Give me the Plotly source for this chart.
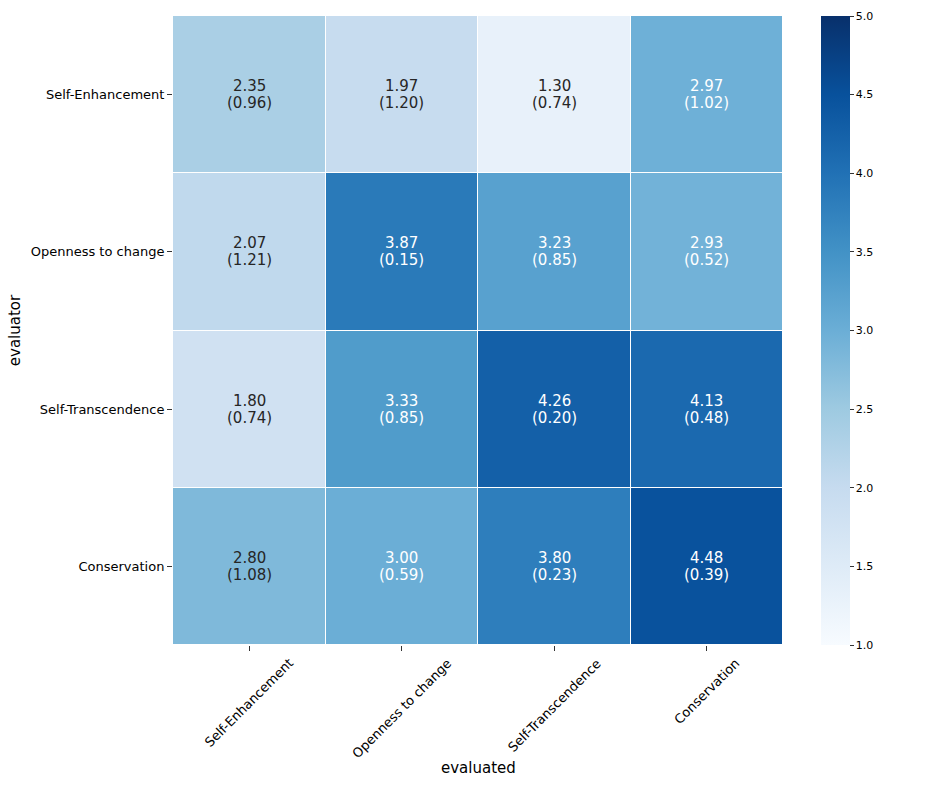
import plotly.graph_objects as go

evaluated = ["Self-Enhancement", "Openness to change", "Self-Transcendence", "Conservation"]
evaluator = ["Self-Enhancement", "Openness to change", "Self-Transcendence", "Conservation"]

means = [
    [2.35, 1.97, 1.30, 2.97],
    [2.07, 3.87, 3.23, 2.93],
    [1.80, 3.33, 4.26, 4.13],
    [2.80, 3.00, 3.80, 4.48],
]
stds = [
    [0.96, 1.20, 0.74, 1.02],
    [1.21, 0.15, 0.85, 0.52],
    [0.74, 0.85, 0.20, 0.48],
    [1.08, 0.59, 0.23, 0.39],
]
cbar_ticks = [1.0, 1.5, 2.0, 2.5, 3.0, 3.5, 4.0, 4.5, 5.0]

FONT = "DejaVu Sans"

fig = go.Figure()
fig.add_trace(go.Heatmap(
    z=means, x=evaluated, y=evaluator,
    zmin=1, zmax=5, colorscale="Blues",
    xgap=1, ygap=1, hoverinfo="skip",
    colorbar=dict(
        x=1.062, xanchor="left", y=0.5, yanchor="middle", len=1, lenmode="fraction",
        thickness=29, outlinewidth=0, xpad=0, ypad=0,
        tickvals=cbar_ticks, ticktext=[f"{t:.1f}" for t in cbar_ticks],
        ticks="outside", ticklen=4, tickcolor="#333",
        tickfont=dict(family=FONT, size=11, color="#000"),
    ),
))

annotations = []
for i, row in enumerate(evaluator):
    for j, col in enumerate(evaluated):
        m = means[i][j]
        color = "white" if m >= 2.9 else "#262626"
        annotations.append(dict(
            x=col, y=row, xref="x", yref="y", yshift=8.5,
            text=f"{m:.2f}", showarrow=False,
            font=dict(family=FONT, size=15, color=color),
        ))
        annotations.append(dict(
            x=col, y=row, xref="x", yref="y", yshift=-8.5,
            text=f"({stds[i][j]:.2f})", showarrow=False,
            font=dict(family=FONT, size=15, color=color),
        ))

for col in evaluated:
    annotations.append(dict(
        x=col, y=0, xref="x", yref="paper", yanchor="top", xanchor="center",
        yshift=-8, text=col, textangle=-45, showarrow=False,
        font=dict(family=FONT, size=13, color="#000"),
    ))

annotations.append(dict(
    x=0.5, y=0, xref="paper", yref="paper", yanchor="top", xanchor="center",
    yshift=-112, text="evaluated", showarrow=False,
    font=dict(family=FONT, size=15, color="#000"),
))

fig.update_layout(
    width=947, height=789,
    margin=dict(l=173, r=164, t=16, b=144),
    paper_bgcolor="white", plot_bgcolor="white",
    font=dict(family=FONT, size=13, color="#000"),
    annotations=annotations,
    xaxis=dict(showticklabels=False, ticks="outside", ticklen=5, tickcolor="#333",
               showgrid=False, zeroline=False, showline=False),
    yaxis=dict(autorange="reversed", ticks="outside", ticklen=5, tickcolor="#333",
               showgrid=False, zeroline=False, showline=False,
               tickfont=dict(family=FONT, size=13, color="#000"),
               title=dict(text="evaluator", font=dict(family=FONT, size=15, color="#000"), standoff=6)),
)

fig.write_html("out.html", config={"displayModeBar": False},
               post_script="document.body.style.margin='0';")
